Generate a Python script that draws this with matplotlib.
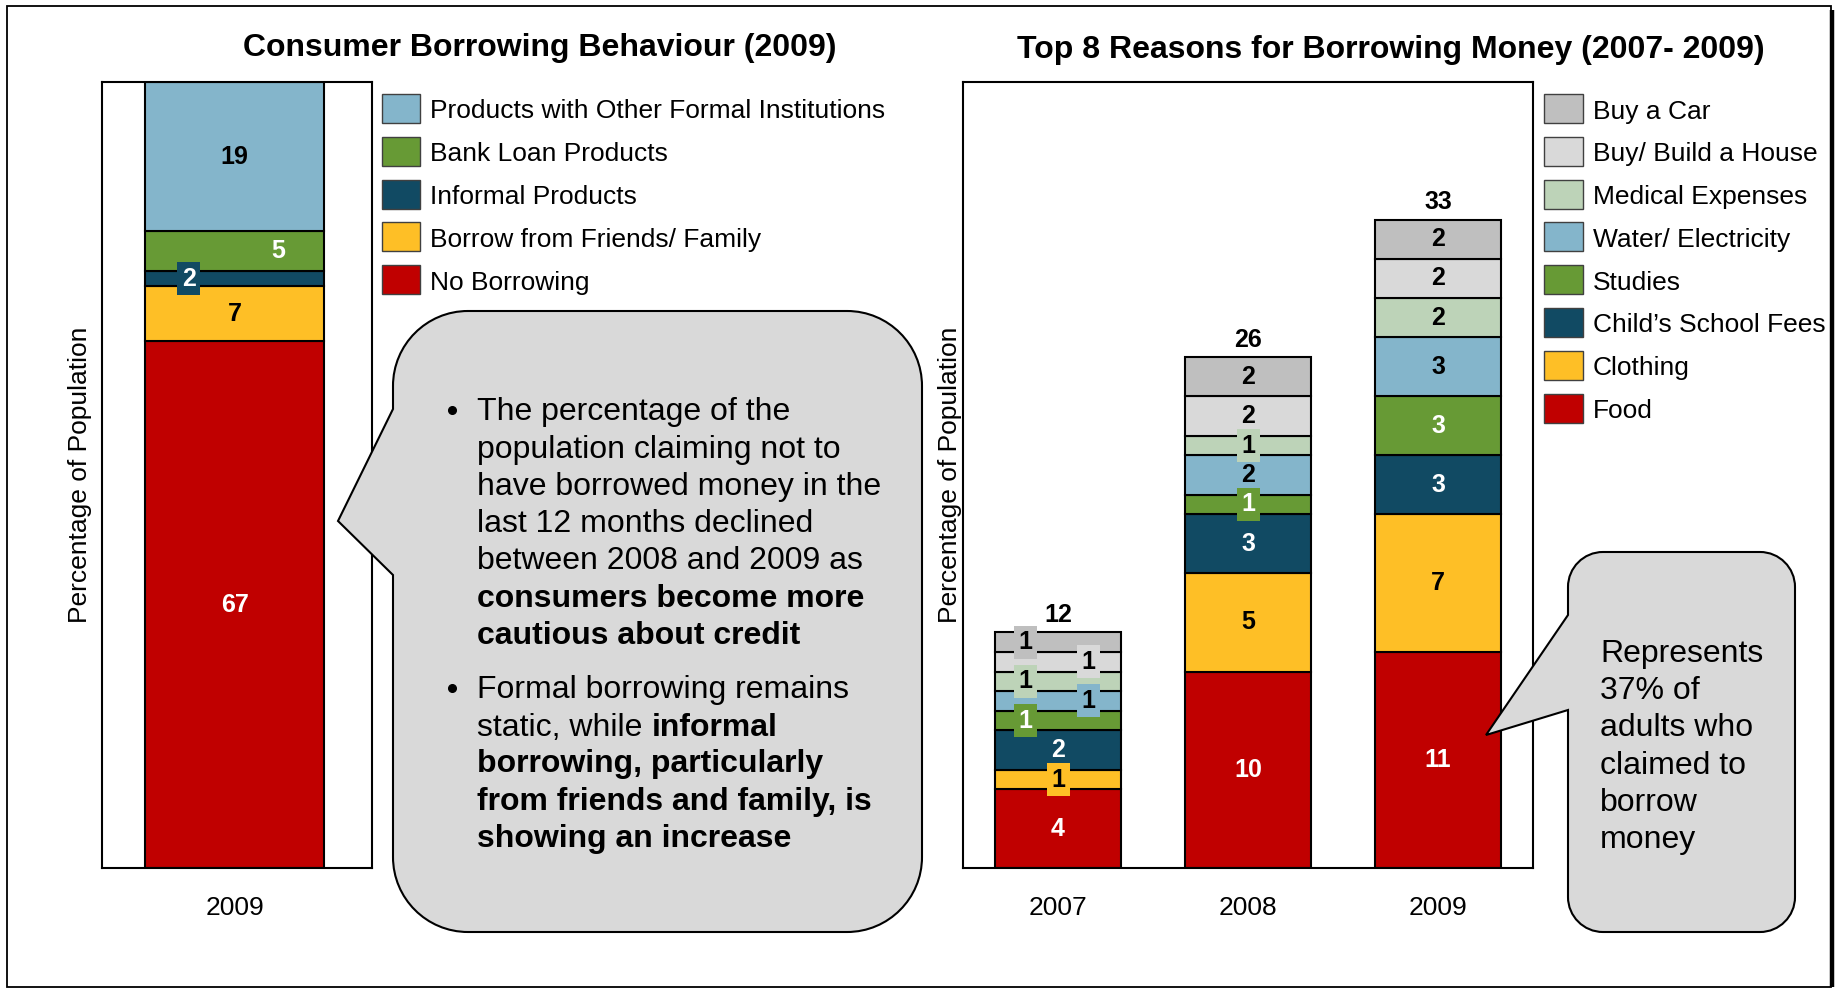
import matplotlib
matplotlib.use("Agg")
import matplotlib.pyplot as plt
from matplotlib.patches import PathPatch, Rectangle
from matplotlib.path import Path
import numpy as np

plt.rcParams["font.family"] = ["Liberation Sans", "DejaVu Sans"]

W, H = 1839, 989

# --- Consumer borrowing behaviour (2009), % of population
left_years = ["2009"]
no_borrowing = [67]
friends_family = [7]
informal = [2]
bank_loan = [5]
other_formal = [19]
left_names = ["Products with Other Formal Institutions", "Bank Loan Products",
              "Informal Products", "Borrow from Friends/ Family", "No Borrowing"]

# --- Top 8 reasons for borrowing money, % of population
years = ["2007", "2008", "2009"]
food = [4, 10, 11]
clothing = [1, 5, 7]
school_fees = [2, 3, 3]
studies = [1, 1, 3]
water = [1, 2, 3]
medical = [1, 1, 2]
house = [1, 2, 2]
car = [1, 2, 2]
right_names = ["Buy a Car", "Buy/ Build a House", "Medical Expenses", "Water/ Electricity",
               "Studies", "Child\u2019s School Fees", "Clothing", "Food"]

C_LBLUE = "#84B5CB"
C_GREEN = "#679A35"
C_NAVY = "#114A63"
C_YELLOW = "#FEBF26"
C_RED = "#C00000"
C_CAR = "#BFBFBF"
C_HOUSE = "#D9D9D9"
C_MED = "#BDD3B8"

fig = plt.figure(figsize=(W / 100, H / 100), dpi=100)
ax1 = fig.add_axes([102 / W, 1 - 868 / H, 270 / W, 786 / H])
ax2 = fig.add_axes([963 / W, 1 - 868 / H, 570 / W, 786 / H])

BAR_W = 0.663
LBL = dict(fontsize=18, fontweight="bold", ha="center", va="center")


def label(ax, x, y, v, tcol, bcol, boxed):
    kw = dict(LBL, color=tcol)
    if boxed:
        kw["bbox"] = dict(boxstyle="square,pad=0.18", fc=bcol, ec="none")
    ax.text(x, y, str(v), **kw)


# left stacked bar
x1 = np.arange(len(left_years))
left_series = [
    (no_borrowing, C_RED, "white", 0, False),
    (friends_family, C_YELLOW, "black", 0, False),
    (informal, C_NAVY, "white", -0.17, True),
    (bank_loan, C_GREEN, "white", 0.16, False),
    (other_formal, C_LBLUE, "black", 0, False),
]
bottom = np.zeros(len(left_years))
for vals, col, tcol, dx, boxed in left_series:
    ax1.bar(x1, vals, BAR_W, bottom=bottom, color=col, edgecolor="black", linewidth=1.5)
    for xi, v, b in zip(x1, vals, bottom):
        label(ax1, xi + dx, b + v / 2, v, tcol, col, boxed)
    bottom += vals
ax1.set_xlim(-0.491, 0.509)
ax1.set_ylim(0, 100)

# right stacked bars: (values, colour, text colour, per-year (x offset, boxed))
x2 = np.arange(len(years))
right_series = [
    (food, C_RED, "white", [(0, False), (0, False), (0, False)]),
    (clothing, C_YELLOW, "black", [(0, True), (0, False), (0, False)]),
    (school_fees, C_NAVY, "white", [(0, False), (0, False), (0, False)]),
    (studies, C_GREEN, "white", [(-0.17, True), (0, True), (0, False)]),
    (water, C_LBLUE, "black", [(0.16, True), (0, False), (0, False)]),
    (medical, C_MED, "black", [(-0.17, True), (0, True), (0, False)]),
    (house, C_HOUSE, "black", [(0.16, True), (0, False), (0, False)]),
    (car, C_CAR, "black", [(-0.17, True), (0, False), (0, False)]),
]
bottom = np.zeros(len(years))
for vals, col, tcol, opts in right_series:
    ax2.bar(x2, vals, BAR_W, bottom=bottom, color=col, edgecolor="black", linewidth=1.5)
    for xi, v, b, (dx, boxed) in zip(x2, vals, bottom, opts):
        label(ax2, xi + dx, b + v / 2, v, tcol, col, boxed)
    bottom += vals
for xi, tot in zip(x2, bottom):
    ax2.annotate(f"{tot:.0f}", (xi, tot), xytext=(0, 4), textcoords="offset points",
                 ha="center", va="bottom", fontsize=18, fontweight="bold")
ax2.set_xlim(-0.5, 2.5)
ax2.set_ylim(0, 40)

for ax, xs, labs in [(ax1, x1, left_years), (ax2, x2, years)]:
    ax.set_xticks(xs, labs)
    ax.set_yticks([])
    ax.tick_params(axis="x", length=0, pad=20, labelsize=19)
    for sp in ax.spines.values():
        sp.set_linewidth(1.5)

# overlay in pixel coordinates for frame, titles, legends and callouts
ov = fig.add_axes([0, 0, 1, 1])
ov.set_xlim(0, W)
ov.set_ylim(H, 0)
ov.axis("off")
ov.set_zorder(5)
ov.patch.set_visible(False)

ov.add_patch(Rectangle((7, 6), 1824, 981, fill=False, ec="black", lw=1.3))
ov.plot([1832, 1832], [10, 987], color="black", lw=3.2, solid_capstyle="butt")

DY = 3  # text sits a little below its nominal centre line
ov.text(540, 45 + DY, "Consumer Borrowing Behaviour (2009)", fontsize=23, fontweight="bold",
        ha="center", va="center")
ov.text(1391, 47 + DY, "Top 8 Reasons for Borrowing Money (2007- 2009)", fontsize=23,
        fontweight="bold", ha="center", va="center")
ov.text(80, 475, "Percentage of Population", fontsize=19, rotation=90, ha="center", va="center")
ov.text(950, 475, "Percentage of Population", fontsize=19, rotation=90, ha="center", va="center")

left_cols = [C_LBLUE, C_GREEN, C_NAVY, C_YELLOW, C_RED]
for i, (name, col) in enumerate(zip(left_names, left_cols)):
    yc = 108.5 + i * 42.8
    ov.add_patch(Rectangle((382, yc - 14.5), 38, 29, fc=col, ec="#404040", lw=1))
    ov.text(430, yc + DY, name, fontsize=19, ha="left", va="center")

right_cols = [C_CAR, C_HOUSE, C_MED, C_LBLUE, C_GREEN, C_NAVY, C_YELLOW, C_RED]
for i, (name, col) in enumerate(zip(right_names, right_cols)):
    yc = 108.5 + i * 42.8
    ov.add_patch(Rectangle((1544, yc - 14.5), 39, 29, fc=col, ec="#404040", lw=1))
    ov.text(1593, yc + DY, name, fontsize=19, ha="left", va="center")


def callout(x0, y0, x1, y1, r, ya, tip, yb):
    k = 0.5523 * r
    verts = [
        (x0 + r, y0), (x1 - r, y0),
        (x1 - r + k, y0), (x1, y0 + r - k), (x1, y0 + r),
        (x1, y1 - r),
        (x1, y1 - r + k), (x1 - r + k, y1), (x1 - r, y1),
        (x0 + r, y1),
        (x0 + r - k, y1), (x0, y1 - r + k), (x0, y1 - r),
        (x0, yb), tip, (x0, ya), (x0, y0 + r),
        (x0, y0 + r - k), (x0 + r - k, y0), (x0 + r, y0),
        (x0 + r, y0),
    ]
    codes = ([Path.MOVETO, Path.LINETO] + [Path.CURVE4] * 3 + [Path.LINETO] + [Path.CURVE4] * 3
             + [Path.LINETO] + [Path.CURVE4] * 3 + [Path.LINETO] * 4 + [Path.CURVE4] * 3
             + [Path.CLOSEPOLY])
    ov.add_patch(PathPatch(Path(verts, codes), fc="#D9D9D9", ec="black", lw=1.5))


callout(393, 311, 922, 932, 75, 409, (338, 521), 575)
callout(1568, 552, 1795, 932, 35, 615, (1486, 735), 710)

TXT = dict(fontsize=23, ha="left", va="center")
bullet_lines = [
    ("The percentage of the", None),
    ("population claiming not to", None),
    ("have borrowed money in the", None),
    ("last 12 months declined", None),
    ("between 2008 and 2009 as", None),
    (None, "consumers become more"),
    (None, "cautious about credit"),
    ("Formal borrowing remains", None),
    ("static, while ", "informal"),
    (None, "borrowing, particularly"),
    (None, "from friends and family, is"),
    (None, "showing an increase"),
]
line_y = [409, 447, 484, 521, 558, 596, 633, 687, 725, 761, 799, 836]
for (reg, bold), y in zip(bullet_lines, line_y):
    if reg is not None:
        t = ov.text(477, y + DY, reg, **TXT)
        if bold is not None:
            ov.annotate(bold, xy=(1, 0), xycoords=t, ha="left", va="bottom",
                        fontsize=23, fontweight="bold")
    else:
        ov.text(477, y + DY, bold, fontweight="bold", **TXT)
for y in (409, 687):
    ov.plot(452, y + 1, "o", color="black", ms=5.5)

note = ["Represents", "37% of", "adults who", "claimed to", "borrow", "money"]
for i, line in enumerate(note):
    ov.text(1600, 651 + DY + i * 37.2, line, **TXT)

fig.savefig("out.png", dpi=100)
